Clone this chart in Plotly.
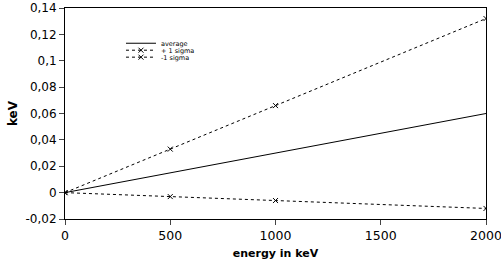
import plotly.graph_objects as go

energy = [0, 500, 1000, 2000]
average = [0, 0.015, 0.03, 0.06]
plus_sigma = [0, 0.033, 0.066, 0.132]
minus_sigma = [0, -0.003, -0.006, -0.012]

x_ticks = [0, 500, 1000, 1500, 2000]
y_ticks = [-0.02, 0, 0.02, 0.04, 0.06, 0.08, 0.1, 0.12, 0.14]
y_ticktext = ["-0,02", "0", "0,02", "0,04", "0,06", "0,08", "0,1", "0,12", "0,14"]

marker = dict(symbol="x-thin", size=5, color="black", line=dict(color="black", width=1))

fig = go.Figure()
fig.add_trace(go.Scatter(x=energy, y=average, mode="lines", name="average",
                         line=dict(color="black", width=1), legend="legend"))
fig.add_trace(go.Scatter(x=energy, y=plus_sigma, mode="lines+markers", name="+ 1 sigma",
                         line=dict(color="black", width=1, dash="dot"),
                         marker=marker, legend="legend2"))
fig.add_trace(go.Scatter(x=energy, y=minus_sigma, mode="lines+markers", name="-1 sigma",
                         line=dict(color="black", width=1, dash="3px,3px"),
                         marker=marker, legend="legend3"))

ff = "DejaVu Sans, Arial, sans-serif"
leg_common = dict(xanchor="left", yanchor="middle", x=0.133,
                  font=dict(size=6.5, family=ff, color="black"),
                  bgcolor="rgba(0,0,0,0)", itemwidth=30)

fig.update_layout(
    width=501, height=263,
    margin=dict(l=65, r=15, t=8, b=44),
    paper_bgcolor="white", plot_bgcolor="white",
    font=dict(family=ff, size=12.5, color="black"),
    showlegend=True,
    legend=dict(y=0.833, **leg_common),
    legend2=dict(y=0.800, **leg_common),
    legend3=dict(y=0.767, **leg_common),
    xaxis=dict(range=[0, 2000], tickvals=x_ticks, ticks="outside", ticklen=5,
               showline=True, linecolor="black", linewidth=1, mirror=True,
               showgrid=False, zeroline=False, automargin=False,
               ticklabeloverflow="allow",
               tickfont=dict(size=12.5),
               title=dict(text="<b>energy in keV</b>", standoff=7, font=dict(size=11))),
    yaxis=dict(range=[-0.02, 0.14], tickvals=y_ticks, ticktext=y_ticktext,
               ticks="outside", ticklen=5,
               showline=True, linecolor="black", linewidth=1, mirror=True,
               showgrid=False, zeroline=False, automargin=False,
               tickfont=dict(size=12),
               title=dict(text="<b>keV</b>", standoff=5, font=dict(size=12))),
)
fig.write_html("out.html", config={"displayModeBar": False},
               post_script="document.body.style.margin='0';")
